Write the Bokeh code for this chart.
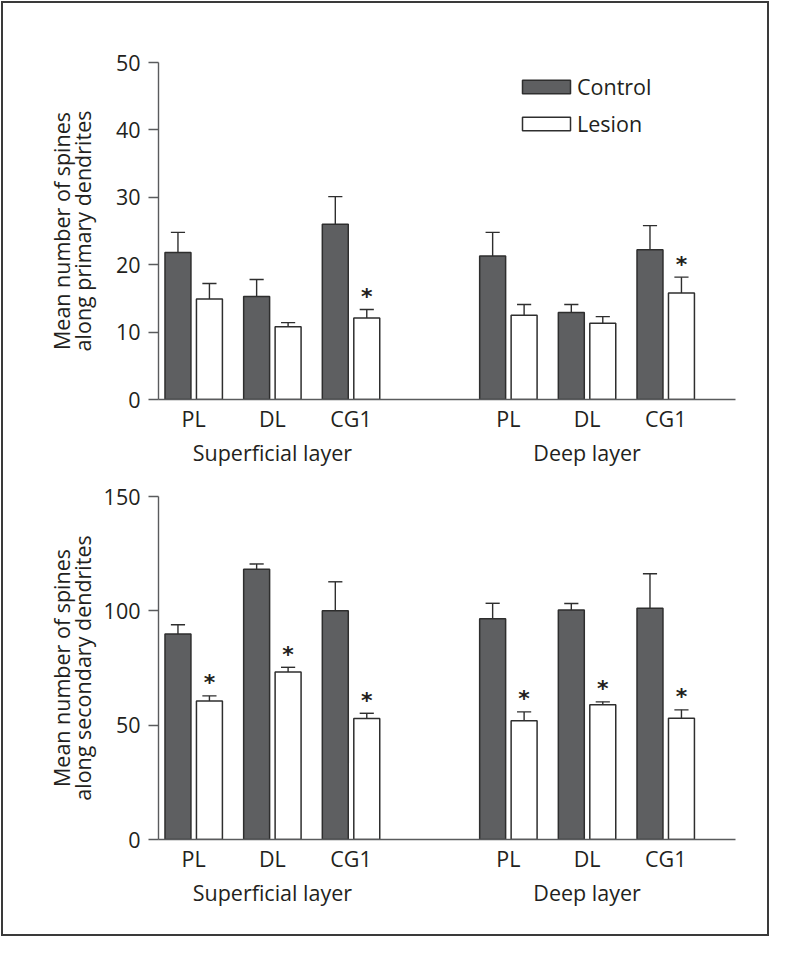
from bokeh.plotting import figure
from bokeh.models import Range1d, FixedTicker, LinearAxis, Legend, LegendItem
from bokeh.layouts import column
from bokeh.embed import file_html
from bokeh.resources import INLINE
from bokeh.core.properties import value

# ---------------- data ----------------
regions = ["PL", "DL", "CG1", "PL", "DL", "CG1"]
positions = [0, 1, 2, 4, 5, 6]
layers = ["Superficial layer", "Deep layer"]
layer_centers = [1, 5]
series = ["Control", "Lesion"]

primary_control = [21.8, 15.3, 26.0, 21.3, 12.9, 22.2]
primary_control_sem = [3.0, 2.5, 4.1, 3.5, 1.2, 3.6]
primary_lesion = [14.9, 10.8, 12.1, 12.5, 11.3, 15.8]
primary_lesion_sem = [2.3, 0.6, 1.25, 1.6, 1.0, 2.35]
primary_sig = [False, False, True, False, False, True]

secondary_control = [89.9, 118.2, 100.0, 96.5, 100.4, 101.1]
secondary_control_sem = [4.0, 2.3, 12.7, 6.8, 2.8, 15.1]
secondary_lesion = [60.6, 73.2, 52.9, 51.9, 58.9, 53.0]
secondary_lesion_sem = [2.2, 2.1, 2.3, 3.9, 1.3, 3.7]
secondary_sig = [True, True, True, True, True, True]

# ---------------- style ----------------
FONT = "Open Sans"
FS = "21.5px"
TXT = "#231f20"
AX = "#5a5b5d"
DARK = "#5e5f61"
EDGE = "#2e2e2e"
FRAME = "#3a3a3a"
BW = 0.33
OFF = 0.2
CAP = 0.09


def panel(ctrl, ctrl_sem, les, les_sem, sig, ymax, yticks, ylabel1, ylabel2,
          frame_h, b_top, b_bottom, label_standoff, legend=False):
    p = figure(frame_width=577, frame_height=frame_h,
               min_border_left=158, min_border_right=35,
               min_border_top=b_top, min_border_bottom=b_bottom,
               x_range=Range1d(-0.4474, 6.887), y_range=Range1d(0, ymax),
               output_backend="svg", toolbar_location=None,
               background_fill_color=None, border_fill_color=None)
    p.outline_line_color = None
    p.grid.visible = False

    xc = [x - OFF for x in positions]
    xl = [x + OFF for x in positions]
    ctop = [v + s for v, s in zip(ctrl, ctrl_sem)]
    ltop = [v + s for v, s in zip(les, les_sem)]

    # error bars (upper only)
    for xs, base, top in ((xc, ctrl, ctop), (xl, les, ltop)):
        p.segment(x0=xs, y0=base, x1=xs, y1=top, line_color=EDGE, line_width=1.4)
        p.segment(x0=[x - CAP for x in xs], y0=top, x1=[x + CAP for x in xs], y1=top,
                  line_color=EDGE, line_width=1.4)

    rc = p.vbar(x=xc, top=ctrl, bottom=0, width=BW, fill_color=DARK,
                line_color=EDGE, line_width=1.5)
    rl = p.vbar(x=xl, top=les, bottom=0, width=BW, fill_color="white",
                line_color=EDGE, line_width=1.5)

    sx = [x for x, s in zip(xl, sig) if s]
    sy = [t for t, s in zip(ltop, sig) if s]
    p.text(x=sx, y=sy, text=["*"] * len(sx), text_font=value("DejaVu Sans"),
           text_font_style="bold", text_font_size="22px", text_color=TXT,
           text_align="center", text_baseline="middle", y_offset=-13)

    # x axes
    xa = p.xaxis[0]
    xa.ticker = FixedTicker(ticks=positions)
    xa.major_label_overrides = {x: r for x, r in zip(positions, regions)}
    xa.major_tick_line_color = None
    xa.minor_tick_line_color = None
    xa.axis_line_color = AX
    xa.axis_line_width = 1.4
    xa.major_label_text_font = FONT
    xa.major_label_text_font_size = FS
    xa.major_label_text_color = TXT
    xa.major_label_standoff = -2

    xa2 = LinearAxis(ticker=FixedTicker(ticks=layer_centers),
                     major_label_overrides={x: l for x, l in zip(layer_centers, layers)},
                     axis_line_color=None, major_tick_line_color=None,
                     minor_tick_line_color=None,
                     major_label_text_font=FONT, major_label_text_font_size=FS,
                     major_label_text_color=TXT, major_label_standoff=-4)
    p.add_layout(xa2, "below")

    ya = p.yaxis[0]
    ya.ticker = FixedTicker(ticks=yticks)
    ya.minor_tick_line_color = None
    ya.major_tick_out = 10
    ya.major_tick_in = 0
    ya.major_tick_line_color = AX
    ya.major_tick_line_width = 1.4
    ya.axis_line_color = AX
    ya.axis_line_width = 1.4
    ya.major_label_text_font = FONT
    ya.major_label_text_font_size = FS
    ya.major_label_text_color = TXT
    ya.major_label_standoff = 8
    ya.axis_label = ylabel2
    ya.axis_label_text_font = FONT
    ya.axis_label_text_font_size = FS
    ya.axis_label_text_font_style = "normal"
    ya.axis_label_text_color = TXT
    ya.axis_label_standoff = label_standoff

    ya2 = LinearAxis(ticker=FixedTicker(ticks=[]), axis_line_color=None,
                     major_tick_line_color=None, minor_tick_line_color=None,
                     major_tick_out=0, major_tick_in=0,
                     axis_label=ylabel1, axis_label_text_font=FONT,
                     axis_label_text_font_size=FS, axis_label_text_font_style="normal",
                     axis_label_text_color=TXT, axis_label_standoff=-11)
    p.add_layout(ya2, "left")

    if legend:
        lg = Legend(items=[LegendItem(label=series[0], renderers=[rc]),
                           LegendItem(label=series[1], renderers=[rl])],
                    location=(358, 261), padding=0, margin=0, spacing=8,
                    glyph_width=60, glyph_height=17, label_standoff=1,
                    label_text_font=FONT, label_text_font_size=FS,
                    label_text_color=TXT, border_line_color=None,
                    background_fill_alpha=0)
        p.add_layout(lg, "center")
    return p


p1 = panel(primary_control, primary_control_sem, primary_lesion, primary_lesion_sem,
           primary_sig, 50, [0, 10, 20, 30, 40, 50],
           "Mean number of spines", "along primary dendrites",
           337, 62, 84, 16, legend=True)
p2 = panel(secondary_control, secondary_control_sem, secondary_lesion, secondary_lesion_sem,
           secondary_sig, 150, [0, 50, 100, 150],
           "Mean number of spines", "along secondary dendrites",
           343, 13, 98, 4)

layout = column(p1, p2, spacing=0,
                styles={"outline": "2px solid " + FRAME, "outline-offset": "-3px",
                        "background-color": "white"})

open("out.html", "w").write(file_html(layout, INLINE))
